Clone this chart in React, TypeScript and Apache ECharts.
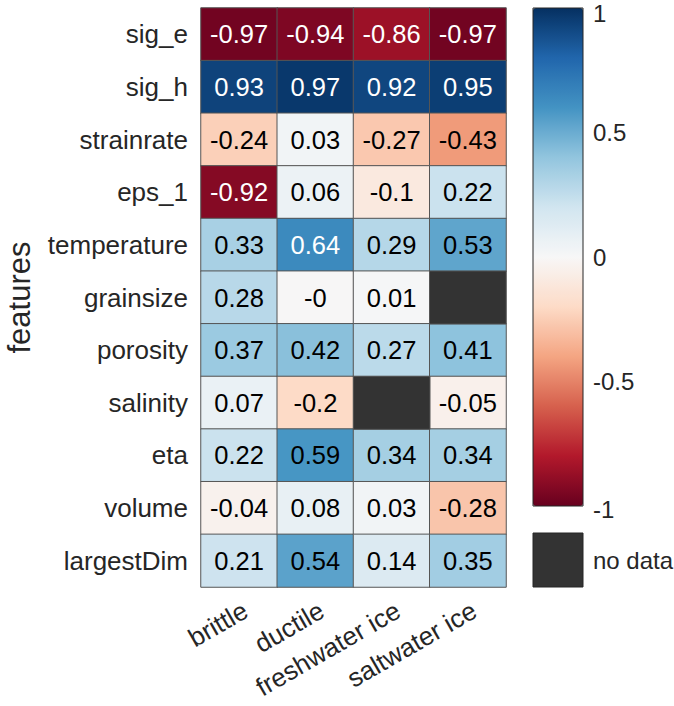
import React, { useEffect, useRef } from "react";
import * as echarts from "echarts";

const features = ["sig_e", "sig_h", "strainrate", "eps_1", "temperature", "grainsize", "porosity", "salinity", "eta", "volume", "largestDim"];
const classes = ["brittle", "ductile", "freshwater ice", "saltwater ice"];

const brittle = [-0.97, 0.93, -0.24, -0.92, 0.33, 0.28, 0.37, 0.07, 0.22, -0.04, 0.21];
const ductile = [-0.94, 0.97, 0.03, 0.06, 0.64, -0.004, 0.42, -0.2, 0.59, 0.08, 0.54];
const freshwaterIce = [-0.86, 0.92, -0.27, -0.1, 0.29, 0.01, 0.27, null, 0.34, 0.03, 0.14];
const saltwaterIce = [-0.97, 0.95, -0.43, 0.22, 0.53, null, 0.41, -0.05, 0.34, -0.28, 0.35];

const columns = [brittle, ductile, freshwaterIce, saltwaterIce];

const colorbarMin = -1;
const colorbarMax = 1;
const colorbarStep = 0.5;

const rdbu = ["#67001f", "#b2182b", "#d6604d", "#f4a582", "#fddbc7", "#f7f7f7", "#d1e5f0", "#92c5de", "#4393c3", "#2166ac", "#053061"];

const FONT = 'Arial, "Liberation Sans", Helvetica, sans-serif';
const TXT = "#262626";

function fmt(v: number): string {
  const r = Math.round(v * 100) / 100;
  if (r === 0 && v < 0) return "-0";
  return String(r);
}

export default function App() {
  const ref = useRef<HTMLDivElement>(null);
  useEffect(() => {
    if (!ref.current) return;
    const chart = echarts.init(ref.current, null, { renderer: "svg" });
    const data: any[] = [];
    const noData: any[] = [];
    columns.forEach((col, ci) => {
      col.forEach((v, ri) => {
        if (v === null) {
          noData.push([ci, ri, 0]);
        } else {
          data.push({
            value: [ci, ri, v],
            label: { color: Math.abs(v) > 0.6 ? "#ffffff" : "#000000" },
          });
        }
      });
    });
    const gLeft = 201, gTop = 8, gW = 305, gH = 579;
    const cbLeft = 533, cbTop = 8, cbW = 50, cbH = 498;
    chart.setOption({
      animation: false,
      backgroundColor: "#ffffff",
      textStyle: { fontFamily: FONT },
      grid: [
        { left: gLeft, top: gTop, width: gW, height: gH, outerBoundsMode: "none", containLabel: false },
        { left: cbLeft, top: cbTop, width: cbW, height: cbH, show: false, outerBoundsMode: "none", containLabel: false },
      ],
      xAxis: [
        {
          type: "category",
          gridIndex: 0,
          data: classes,
          axisLine: { show: false },
          axisTick: { show: false },
          splitArea: { show: false },
          axisLabel: {
            rotate: 30,
            align: "right",
            verticalAlign: "top",
            margin: 10,
            fontSize: 26,
            color: TXT,
            fontFamily: FONT,
            interval: 0,
          },
        },
        { type: "value", gridIndex: 1, show: false, min: 0, max: 1 },
      ],
      yAxis: [
        {
          type: "category",
          gridIndex: 0,
          data: features,
          inverse: true,
          axisLine: { show: false },
          axisTick: { show: false },
          axisLabel: { fontSize: 26, color: TXT, margin: 13, fontFamily: FONT, interval: 0 },
          name: "features",
          nameLocation: "middle",
          nameGap: 166,
          nameTextStyle: { fontSize: 31, color: TXT, fontFamily: FONT },
        },
        {
          type: "value",
          gridIndex: 1,
          position: "right",
          min: colorbarMin,
          max: colorbarMax,
          interval: colorbarStep,
          axisLine: { show: false },
          axisTick: { show: false },
          splitLine: { show: false },
          axisLabel: {
            fontSize: 24,
            color: TXT,
            margin: 10,
            fontFamily: FONT,
            formatter: (v: number) => {
              if (v === colorbarMax) return "{top|" + v + "}";
              if (v === colorbarMin) return "{bot|" + v + "}";
              return String(v);
            },
            rich: {
              top: { fontSize: 24, color: TXT, fontFamily: FONT, padding: [10, 0, 0, 0] },
              bot: { fontSize: 24, color: TXT, fontFamily: FONT, padding: [6, 0, 0, 0] },
            },
          },
        },
      ],
      visualMap: [
        {
          type: "continuous",
          min: colorbarMin,
          max: colorbarMax,
          seriesIndex: 0,
          dimension: 2,
          calculable: false,
          orient: "vertical",
          left: cbLeft,
          top: cbTop,
          itemWidth: cbW,
          itemHeight: cbH,
          padding: 0,
          text: ["", ""],
          showLabel: false,
          inRange: { color: rdbu },
        },
        {
          type: "continuous",
          show: false,
          min: 0,
          max: 1,
          seriesIndex: 1,
          dimension: 2,
          inRange: { color: ["#333333", "#333333"] },
        },
      ],
      graphic: [
        {
          type: "rect",
          z: 100,
          shape: { x: cbLeft, y: cbTop, width: cbW, height: cbH },
          style: { fill: "none", stroke: "#262626", lineWidth: 1 },
        },
        {
          type: "rect",
          z: 100,
          shape: { x: cbLeft, y: 533, width: cbW, height: 54 },
          style: { fill: "#333333", stroke: "#262626", lineWidth: 1 },
        },
        {
          type: "text",
          z: 100,
          x: 593,
          y: 560,
          style: { text: "no data", fontSize: 24, fill: TXT, fontFamily: FONT, verticalAlign: "middle" },
        },
      ],
      series: [
        {
          type: "heatmap",
          xAxisIndex: 0,
          yAxisIndex: 0,
          data,
          itemStyle: { borderColor: "#555555", borderWidth: 1 },
          label: {
            show: true,
            fontSize: 25.5,
            fontFamily: FONT,
            formatter: (p: any) => fmt(p.value[2]),
          },
          emphasis: { disabled: true },
        },
        {
          type: "heatmap",
          xAxisIndex: 0,
          yAxisIndex: 0,
          data: noData,
          itemStyle: { borderColor: "#555555", borderWidth: 1 },
          label: { show: false },
          emphasis: { disabled: true },
        },
      ],
    });
    return () => chart.dispose();
  }, []);
  return <div ref={ref} style={{ position: "fixed", left: 0, top: 0, width: 674, height: 706 }} />;
}
